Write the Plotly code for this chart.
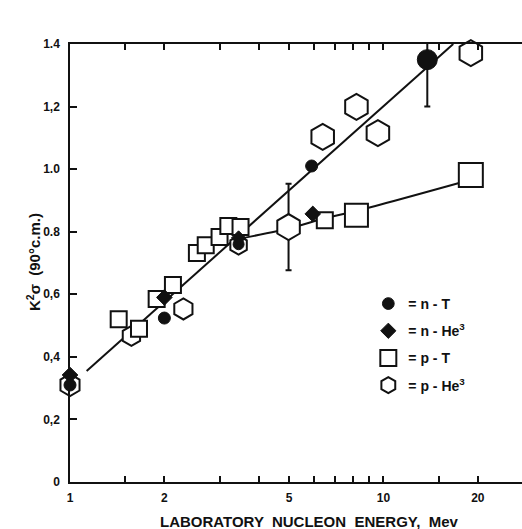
import plotly.graph_objects as go

# ---------------- data ----------------
nT_E = [1.0, 2.0, 3.45, 5.9, 13.8]
nT_val = [0.31, 0.524, 0.76, 1.01, 1.35]
nT_err = [0, 0, 0, 0, 0.15]

nHe3_E = [1.0, 2.0, 3.45, 5.95]
nHe3_val = [0.342, 0.59, 0.78, 0.857]

pT_E = [1.43, 1.66, 1.89, 2.13, 2.54, 2.71, 3.0, 3.2, 3.5, 6.5, 8.2, 19.0]
pT_val = [0.52, 0.49, 0.585, 0.63, 0.732, 0.757, 0.783, 0.818, 0.815, 0.837, 0.853, 0.981]

pHe3_E = [1.0, 1.57, 2.3, 3.45, 4.98, 6.4, 8.2, 9.6, 19.0]
pHe3_val = [0.31, 0.467, 0.553, 0.757, 0.815, 1.103, 1.199, 1.115, 1.371]
pHe3_err = [0, 0, 0, 0, 0.138, 0, 0, 0, 0]

fit_E = [1.13, 16.7]
fit_val = [0.355, 1.40]

curve_E = [3.45, 5.0, 6.5, 8.2, 19.0]
curve_val = [0.777, 0.81, 0.843, 0.866, 0.966]

x_tickvals = [1, 2, 5, 10, 20]
x_ticktext = ["1", "2", "5", "10", "20"]
x_minor_tickvals = [1.5, 3, 4, 6, 7, 8, 9, 15]
y_tickvals = [0, 0.2, 0.4, 0.6, 0.8, 1.0, 1.2, 1.4]
y_ticktext = ["0", "0,2", "0,4", "0,6", "0.8", "1.0", "1,2", "1.4"]

# ---------------- styles ----------------
nT_sizes = [12, 12, 11, 12, 20]
nHe3_sizes = [12, 12, 11, 12]
pT_sizes = [16, 16, 16, 16, 16, 16, 16, 16, 16, 16, 23, 24]
pHe3_sizes = [22, 20, 21, 19, 26, 26, 26, 26, 26]

BLACK = "#111111"

fig = go.Figure()

# lines
fig.add_trace(go.Scatter(x=fit_E, y=fit_val, mode="lines",
                         line=dict(color=BLACK, width=2), showlegend=False,
                         hoverinfo="skip"))
fig.add_trace(go.Scatter(x=curve_E, y=curve_val, mode="lines",
                         line=dict(color=BLACK, width=2, shape="spline", smoothing=0.6),
                         showlegend=False, hoverinfo="skip"))

# p-He3 hexagons
idx_p = [i for i, r in enumerate(pHe3_err) if r == 0]
idx_e = [i for i, r in enumerate(pHe3_err) if r != 0]
fig.add_trace(go.Scatter(
    x=[pHe3_E[i] for i in idx_e], y=[pHe3_val[i] for i in idx_e], mode="markers",
    marker=dict(symbol="hexagon", size=[pHe3_sizes[i] for i in idx_e], color="white",
                opacity=1, line=dict(color=BLACK, width=2)),
    error_y=dict(type="data", array=[pHe3_err[i] for i in idx_e], color=BLACK,
                 thickness=2, width=3),
    showlegend=False, cliponaxis=False))
fig.add_trace(go.Scatter(
    x=[pHe3_E[i] for i in idx_p], y=[pHe3_val[i] for i in idx_p], mode="markers",
    name="= p - He<sup>3</sup>", legendgroup="d", legendrank=4,
    marker=dict(symbol="hexagon", size=[pHe3_sizes[i] for i in idx_p], color="white",
                opacity=1, line=dict(color=BLACK, width=2)),
    cliponaxis=False))

# p-T squares
fig.add_trace(go.Scatter(
    x=pT_E, y=pT_val, mode="markers", name="= p - T", legendgroup="c", legendrank=3,
    marker=dict(symbol="square", size=pT_sizes, color="white", opacity=1,
                line=dict(color=BLACK, width=2)),
    cliponaxis=False))

# n-He3 diamonds
fig.add_trace(go.Scatter(
    x=nHe3_E, y=nHe3_val, mode="markers", name="= n - He<sup>3</sup>",
    legendgroup="b", legendrank=2,
    marker=dict(symbol="diamond", size=nHe3_sizes, color=BLACK, opacity=1,
                line=dict(color=BLACK, width=1)),
    cliponaxis=False))

# n-T circles
idx_p = [i for i, r in enumerate(nT_err) if r == 0]
idx_e = [i for i, r in enumerate(nT_err) if r != 0]
fig.add_trace(go.Scatter(
    x=[nT_E[i] for i in idx_p], y=[nT_val[i] for i in idx_p], mode="markers",
    name="= n - T", legendgroup="a", legendrank=1,
    marker=dict(symbol="circle", size=[nT_sizes[i] for i in idx_p], color=BLACK,
                opacity=1, line=dict(color=BLACK, width=1)),
    cliponaxis=False))
fig.add_trace(go.Scatter(
    x=[nT_E[i] for i in idx_e], y=[nT_val[i] for i in idx_e], mode="markers",
    marker=dict(symbol="circle", size=[nT_sizes[i] for i in idx_e], color=BLACK,
                opacity=1, line=dict(color=BLACK, width=1)),
    error_y=dict(type="data", array=[nT_err[i] for i in idx_e], color=BLACK,
                 thickness=2, width=3),
    showlegend=False, cliponaxis=False))

TICKFONT = dict(family="Liberation Sans", size=12, color=BLACK, weight="bold")

fig.update_layout(
    width=522, height=529,
    margin=dict(l=70, r=0, t=44, b=47),
    paper_bgcolor="white", plot_bgcolor="white",
    showlegend=True,
    legend=dict(x=0.66, y=0.443, xanchor="left", yanchor="top",
                font=dict(family="Liberation Sans", size=14, color=BLACK, weight="bold"),
                bgcolor="rgba(0,0,0,0)", tracegroupgap=6, itemsizing="trace"),
    xaxis=dict(type="log", range=[0, 1.442], tickmode="array",
               tickvals=x_tickvals, ticktext=x_ticktext,
               ticks="inside", ticklen=6, tickwidth=1.5, tickcolor=BLACK,
               minor=dict(tickmode="array", tickvals=x_minor_tickvals, ticks="inside",
                          ticklen=6, tickwidth=1.5, tickcolor=BLACK, showgrid=False),
               showline=True, linecolor=BLACK, linewidth=1.5, mirror="ticks",
               showgrid=False, zeroline=False, tickfont=TICKFONT,
               ticklabelstandoff=4),
    yaxis=dict(range=[0, 1.4], tickvals=y_tickvals, ticktext=y_ticktext,
               ticks="inside", ticklen=7, tickwidth=1.5, tickcolor=BLACK,
               showline=True, linecolor=BLACK, linewidth=1.5, mirror=False,
               showgrid=False, zeroline=False, tickfont=TICKFONT,
               ticklabelstandoff=6),
    annotations=[
        dict(text="LABORATORY  NUCLEON  ENERGY,  Mev", xref="paper", yref="paper",
             x=0.529, y=-0.091, showarrow=False, xanchor="center", yanchor="middle",
             font=dict(family="Liberation Sans", size=15, color=BLACK, weight="bold")),
        dict(text="K<sup>2</sup>σ  (90°c.m.)", xref="paper", yref="paper",
             x=-0.082, y=0.502, showarrow=False, textangle=-90,
             xanchor="center", yanchor="middle",
             font=dict(family="Liberation Sans", size=15, color=BLACK, weight="bold")),
    ],
)

fig.write_html("out.html")
